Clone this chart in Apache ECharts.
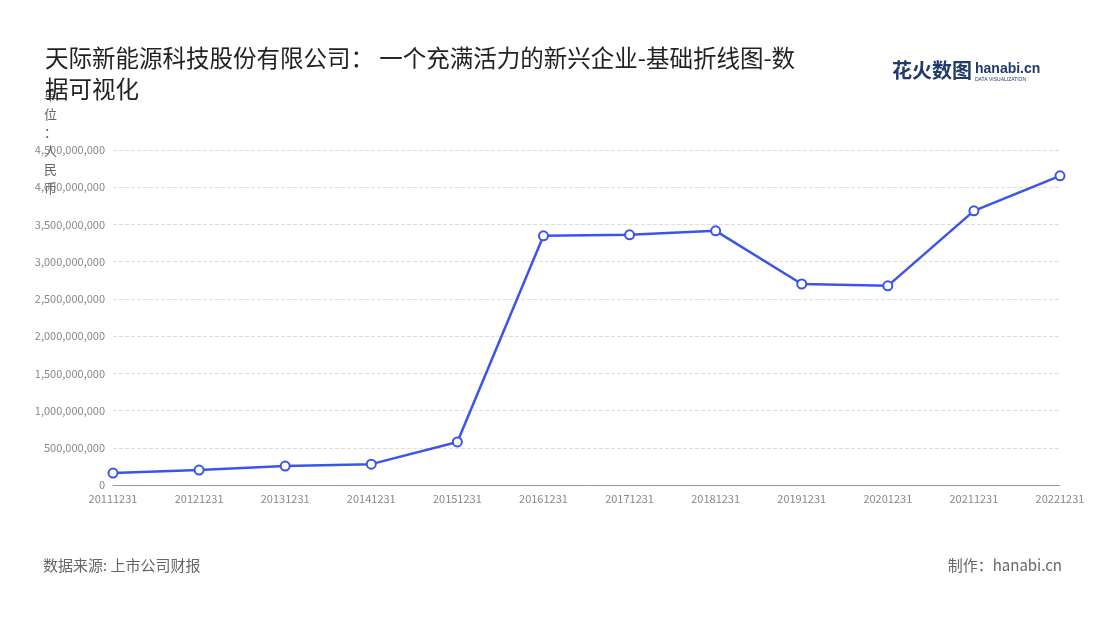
<!DOCTYPE html>
<html><head><meta charset="utf-8">
<script src="https://cdn.jsdelivr.net/npm/echarts@6/dist/echarts.min.js"></script>
<style>html,body{margin:0;padding:0;background:#fff}#c{width:1100px;height:620px}</style>
</head><body><div id="c"></div>
<script>
const categories=['20111231','20121231','20131231','20141231','20151231','20161231','20171231','20181231','20191231','20201231','20211231','20221231'];
const values=[161000000,200000000,255000000,280000000,578000000,3347000000,3360000000,3414000000,2700000000,2675000000,3683000000,4153000000];
const chart=echarts.init(document.getElementById('c'));
const ff='"Noto Sans CJK SC","Noto Sans",sans-serif';
chart.setOption({
 textStyle:{fontFamily:ff},
 title:{text:'天际新能源科技股份有限公司： 一个充满活力的新兴企业-基础折线图-数\n据可视化',left:40,top:38,textStyle:{fontSize:23.5,fontWeight:'normal',color:'#222',lineHeight:31,fontFamily:ff}},
 graphic:[
  {type:'text',left:892,top:60,style:{text:'花火数图',font:'bold 20px '+ff,fill:'#1f3a6b'}},
  {type:'text',left:975,top:62,style:{text:'hanabi.cn',font:'bold 14px sans-serif',fill:'#1f3a6b'}},
  {type:'text',left:975,top:77,style:{text:'DATA VISUALIZATION',font:'5px sans-serif',fill:'#1f3a6b'}},
  {type:'text',left:43,top:558,style:{text:'数据来源: 上市公司财报',font:'15px '+ff,fill:'#666'}},
  {type:'text',right:38,top:558,style:{text:'制作：hanabi.cn',font:'15px '+ff,fill:'#666'}},
  {type:'text',left:44,top:86,style:{text:'单\n位\n：\n人\n民\n币',font:'13px '+ff,fill:'#666',lineHeight:18.5}}
 ],
 grid:{left:113,right:40,top:150,bottom:135},
 xAxis:{type:'category',data:categories,boundaryGap:false,axisLine:{lineStyle:{color:'#999'}},axisTick:{show:false},axisLabel:{color:'#888',fontSize:11,interval:0}},
 yAxis:{type:'value',min:0,max:4500000000,interval:500000000,axisLine:{show:false},axisTick:{show:false},
  axisLabel:{color:'#888',fontSize:11,formatter:v=>v.toLocaleString('en-US')},
  splitLine:{lineStyle:{type:'dashed',color:'#ddd'}}},
 series:[{type:'line',data:values,symbol:'circle',symbolSize:9,itemStyle:{color:'#fff',borderColor:'#3a55e8',borderWidth:2},lineStyle:{color:'#3a55e8',width:2.5}}]
});
</script></body></html>
